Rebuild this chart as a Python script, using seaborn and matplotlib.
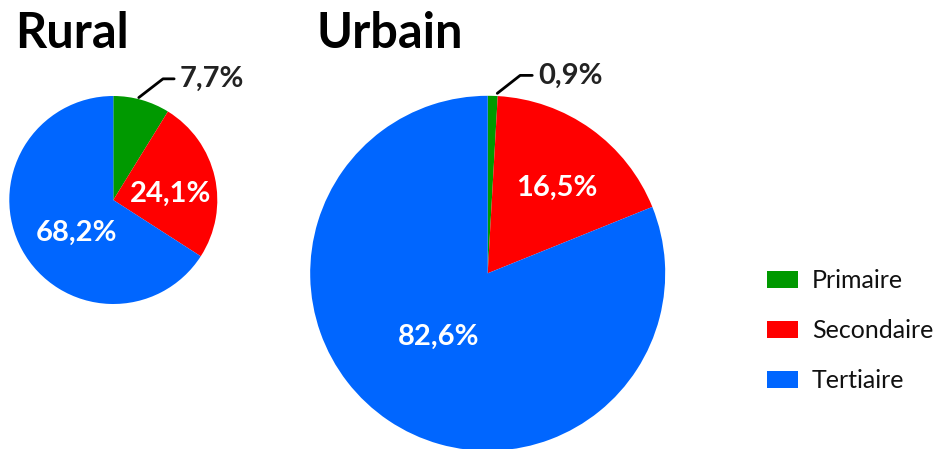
import matplotlib
matplotlib.use("Agg")
import matplotlib.pyplot as plt
import seaborn as sns

sns.set_theme(style="white")
plt.rcParams['font.family'] = ['Lato', 'DejaVu Sans']

categories = ["Primaire", "Secondaire", "Tertiaire"]
# wedge sizes as drawn in the reference picture
rural_values = [8.8, 25.3, 65.9]
urbain_values = [0.9, 18.0, 81.1]
# printed labels
rural_labels = ["7,7%", "24,1%", "68,2%"]
urbain_labels = ["0,9%", "16,5%", "82,6%"]
colors = ["#009900", "#FF0000", "#0066FF"]

W, H = 943, 449
fig = plt.figure(figsize=(W / 100, H / 100), dpi=100)


def pie_axes(cx, cy, r):
    return fig.add_axes([(cx - r) / W, (H - cy - r) / H, 2 * r / W, 2 * r / H])


# Rural
ax1 = pie_axes(113.3, 200, 104)
wedges1, _ = ax1.pie(rural_values, colors=colors, startangle=90, counterclock=False,
                     radius=1, wedgeprops=dict(linewidth=0))
ax1.set_xlim(-1, 1); ax1.set_ylim(-1, 1); ax1.set_aspect('equal'); ax1.axis('off')
ax1.text(0.552, 0.058, rural_labels[1], color='white', fontsize=21, fontweight='bold',
         ha='center', va='center')
ax1.text(-0.352, -0.317, rural_labels[2], color='white', fontsize=21, fontweight='bold',
         ha='center', va='center')
ax1.plot([0.245, 0.478, 0.585], [0.985, 1.165, 1.165], color='black', lw=2, clip_on=False)
ax1.text(0.64, 1.165, rural_labels[0], color='#222222', fontsize=21, fontweight='bold',
         ha='left', va='center', clip_on=False)

# Urbain
ax2 = pie_axes(487.7, 273.3, 177.5)
wedges2, _ = ax2.pie(urbain_values, colors=colors, startangle=90, counterclock=False,
                     radius=1, wedgeprops=dict(linewidth=0))
ax2.set_xlim(-1, 1); ax2.set_ylim(-1, 1); ax2.set_aspect('equal'); ax2.axis('off')
ax2.text(0.392, 0.479, urbain_labels[1], color='white', fontsize=21, fontweight='bold',
         ha='center', va='center')
ax2.text(-0.279, -0.36, urbain_labels[2], color='white', fontsize=21, fontweight='bold',
         ha='center', va='center')
ax2.plot([0.054, 0.183, 0.251], [1.014, 1.115, 1.115], color='black', lw=2, clip_on=False)
ax2.text(0.285, 1.115, urbain_labels[0], color='#222222', fontsize=21, fontweight='bold',
         ha='left', va='center', clip_on=False)

# Titles
fig.text(15 / W, 1 - 34 / H, "Rural", fontsize=35, fontweight='bold', color='black',
         ha='left', va='center')
fig.text(316 / W, 1 - 34 / H, "Urbain", fontsize=35, fontweight='bold', color='black',
         ha='left', va='center')

# Legend
leg = fig.legend(wedges1, categories, loc='center left',
                 bbox_to_anchor=(767 / W, (H - 331) / H), frameon=False,
                 fontsize=18, handlelength=1.24, handleheight=0.64,
                 labelspacing=1.08, handletextpad=0.56, borderpad=0, borderaxespad=0)
for t in leg.get_texts():
    t.set_color('#111111')

fig.savefig("out.png", dpi=100)
